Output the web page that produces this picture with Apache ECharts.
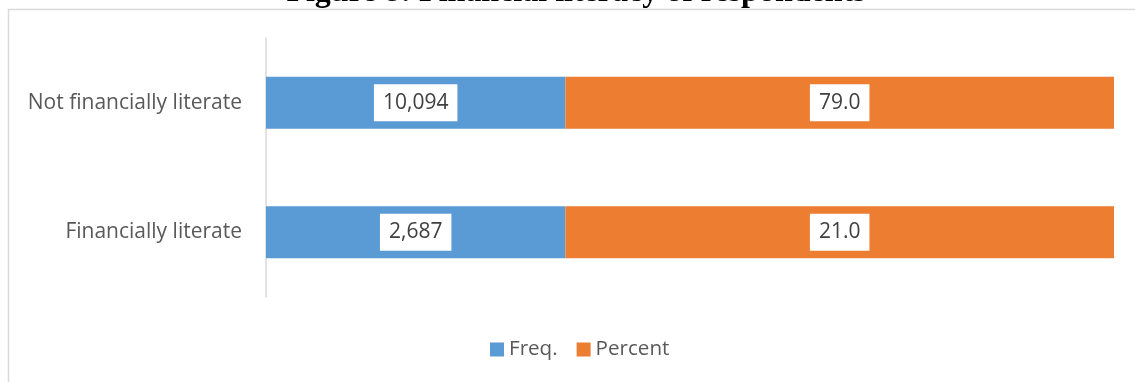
<!DOCTYPE html>
<html>
<head>
<meta charset="utf-8">
<script src="https://cdn.jsdelivr.net/npm/echarts@6/dist/echarts.min.js"></script>
<style>
html,body{margin:0;padding:0;background:#fff;}
#chart{width:1135px;height:382px;}
</style>
</head>
<body>
<div id="chart"></div>
<script>
// Categories (bottom to top on the category axis)
const categories = ['Financially literate', 'Not financially literate'];
// Values shown in the data labels
const freqValues = [2687, 10094];
const percentValues = [21.0, 79.0];
// Bar segment lengths as drawn in the original (share of the full bar, %)
const freqBarShare = [35.3, 35.3];
const percentBarShare = [64.7, 64.7];
const seriesNames = ['Freq.', 'Percent'];
const titleText = 'Figure 8: Financial literacy of respondents';

const chart = echarts.init(document.getElementById('chart'));
const labelStyle = {
  show: true,
  position: 'inside',
  backgroundColor: '#ffffff',
  color: '#404040',
  fontFamily: 'Open Sans',
  fontSize: 21,
  padding: [8, 9, 8, 9]
};
chart.setOption({
  animation: false,
  backgroundColor: '#ffffff',
  graphic: [
    {type: 'rect', silent: true, shape: {x: 8.5, y: 9.5, width: 1200, height: 500},
     style: {fill: 'none', stroke: '#d9d9d9', lineWidth: 1.5}},
    {type: 'text', silent: true, style: {text: titleText, x: 576, y: -7, textAlign: 'center', textVerticalAlign: 'middle',
      font: 'bold 32px "Liberation Serif", "Times New Roman", serif', fill: '#000'}}
  ],
  grid: {left: 266, right: 21, top: 38, bottom: 85, containLabel: false},
  legend: {
    left: 490, top: 339, padding: 0, itemWidth: 14, itemHeight: 14, itemGap: 19,
    icon: 'rect',
    textStyle: {color: '#595959', fontFamily: 'Open Sans', fontSize: 20.6},
    data: seriesNames
  },
  xAxis: {type: 'value', min: 0, max: 100, show: false},
  yAxis: {
    type: 'category', data: categories,
    axisLine: {show: true, lineStyle: {color: '#d9d9d9', width: 1.5}},
    axisTick: {show: false},
    axisLabel: {color: '#595959', fontFamily: 'Open Sans', fontSize: 21, margin: 24}
  },
  series: [
    {name: seriesNames[0], type: 'bar', stack: 'a', barWidth: '40%',
     itemStyle: {color: '#5B9BD5'},
     data: freqBarShare,
     label: Object.assign({}, labelStyle, {formatter: p => freqValues[p.dataIndex].toLocaleString('en-US')})},
    {name: seriesNames[1], type: 'bar', stack: 'a', barWidth: '40%',
     itemStyle: {color: '#ED7D31'},
     data: percentBarShare,
     label: Object.assign({}, labelStyle, {formatter: p => percentValues[p.dataIndex].toFixed(1)})}
  ]
});
</script>
</body>
</html>
